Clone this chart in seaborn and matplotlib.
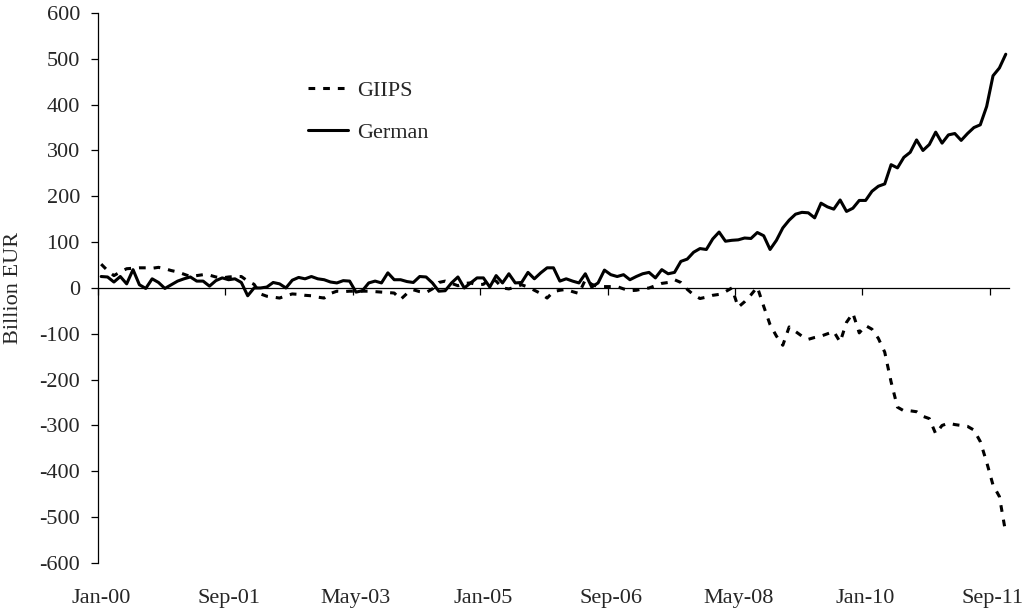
import matplotlib
matplotlib.use('Agg')
import matplotlib.pyplot as plt
import numpy as np
import pandas as pd
import seaborn as sns

# Monthly series, Jan-00 .. Nov-11 (billion EUR)
months = pd.date_range('2000-01-01', periods=143, freq='MS')
month_labels = [d.strftime('%b-%y') for d in months]

german = [
    25, 24, 13, 25, 9, 40, 7, -1, 20, 12,
    -1, 7, 15, 20, 24, 15, 15, 4, 16, 22,
    18, 20, 12, -17, 0, 0, 2, 12, 9, 0,
    17, 23, 20, 25, 20, 18, 13, 11, 16, 15,
    -9, -6, 11, 15, 11, 33, 18, 18, 14, 12,
    25, 24, 11, -7, -6, 11, 24, 0, 11, 22,
    22, 2, 27, 11, 31, 11, 12, 34, 20, 33,
    44, 44, 15, 20, 15, 11, 31, 2, 11, 39,
    29, 25, 29, 18, 25, 31, 34, 22, 40, 31,
    34, 58, 63, 78, 86, 84, 107, 122, 102, 104,
    105, 109, 108, 121, 114, 84, 104, 131, 148, 161,
    165, 164, 153, 185, 177, 172, 192, 167, 174, 191,
    191, 211, 222, 227, 269, 262, 285, 296, 323, 300,
    313, 340, 316, 334, 337, 322, 337, 350, 356, 396,
    463, 480, 510,
]

giips = [
    52, 38, 27, 35, 42, 43, 44, 44, 43, 45,
    42, 38, 35, 30, 25, 27, 29, 28, 24, 22,
    24, 25, 25, 15, 8, -13, -18, -20, -22, -17,
    -13, -14, -16, -17, -20, -22, -12, -7, -8, -7,
    -7, -7, -7, -8, -9, -10, -11, -25, -12, -4,
    -8, -10, -2, 12, 15, 10, 5, 10, 11, 7,
    8, 20, 15, 0, -2, 2, 7, 2, -5, -12,
    -22, -8, -5, -3, -8, -12, 18, 8, 3, 3,
    3, 3, -2, -6, -5, -2, 0, 5, 10, 12,
    18, 12, -3, -15, -23, -20, -16, -14, -8, 0,
    -42, -30, -15, 2, -40, -80, -105, -125, -85, -95,
    -105, -112, -108, -105, -100, -95, -118, -75, -55, -98,
    -82, -90, -110, -140, -205, -260, -268, -268, -270, -280,
    -285, -318, -300, -295, -298, -300, -302, -310, -335, -380,
    -430, -455, -535,
]

df = pd.DataFrame({'idx': np.arange(len(months)), 'GIIPS': giips, 'German': german})

sns.set_style('white')
plt.rcParams['font.family'] = ['Liberation Serif', 'DejaVu Serif']
plt.rcParams['axes.unicode_minus'] = False
plt.rcParams['font.size'] = 16

fig = plt.figure(figsize=(10.24, 6.12), dpi=100)
ax = fig.add_axes([0.0957, 0.0801, 0.8896, 0.8987])

sns.lineplot(data=df, x='idx', y='GIIPS', ax=ax, color='black', linewidth=2.2,
             linestyle=(0, (2.2, 2.6)), label='GIIPS')
sns.lineplot(data=df, x='idx', y='German', ax=ax, color='black', linewidth=2.2,
             label='German')

ax.set_xlim(-0.5, len(months) - 0.5)
ax.set_ylim(-600, 600)
ax.set_yticks(np.arange(-600, 601, 100))

# x axis line sits on zero, tick marks between categories
ax.spines['bottom'].set_position(('data', 0))
ax.spines['top'].set_visible(False)
ax.spines['right'].set_visible(False)
for s in ['left', 'bottom']:
    ax.spines[s].set_color('black')
    ax.spines[s].set_linewidth(0.9)
ax.set_xticks(np.arange(-0.5, len(months), 20))
ax.tick_params(axis='x', direction='out', length=5, width=0.9, color='black',
               labelbottom=False, bottom=True)
ax.tick_params(axis='y', direction='out', length=5, width=0.9, color='black',
               left=True, pad=8, labelsize=16)
ax.set_xlabel('')
ax.set_ylabel('Billion EUR', fontsize=16)
ax.yaxis.set_label_coords(-0.082, 0.5)

# date labels along the bottom of the plot
sec = ax.secondary_xaxis('bottom')
sec.spines['bottom'].set_visible(False)
sec.set_xticks(np.arange(0, len(months), 20))
sec.set_xticklabels([month_labels[i] for i in range(0, len(months), 20)])
sec.tick_params(length=0, pad=19, labelsize=16)

ax.legend(loc='upper left', bbox_to_anchor=(0.2305, 0.878), frameon=False,
          handlelength=1.8, handletextpad=0.4, labelspacing=0.98,
          borderpad=0, borderaxespad=0, fontsize=16)

fig.savefig('out.png', dpi=100)
